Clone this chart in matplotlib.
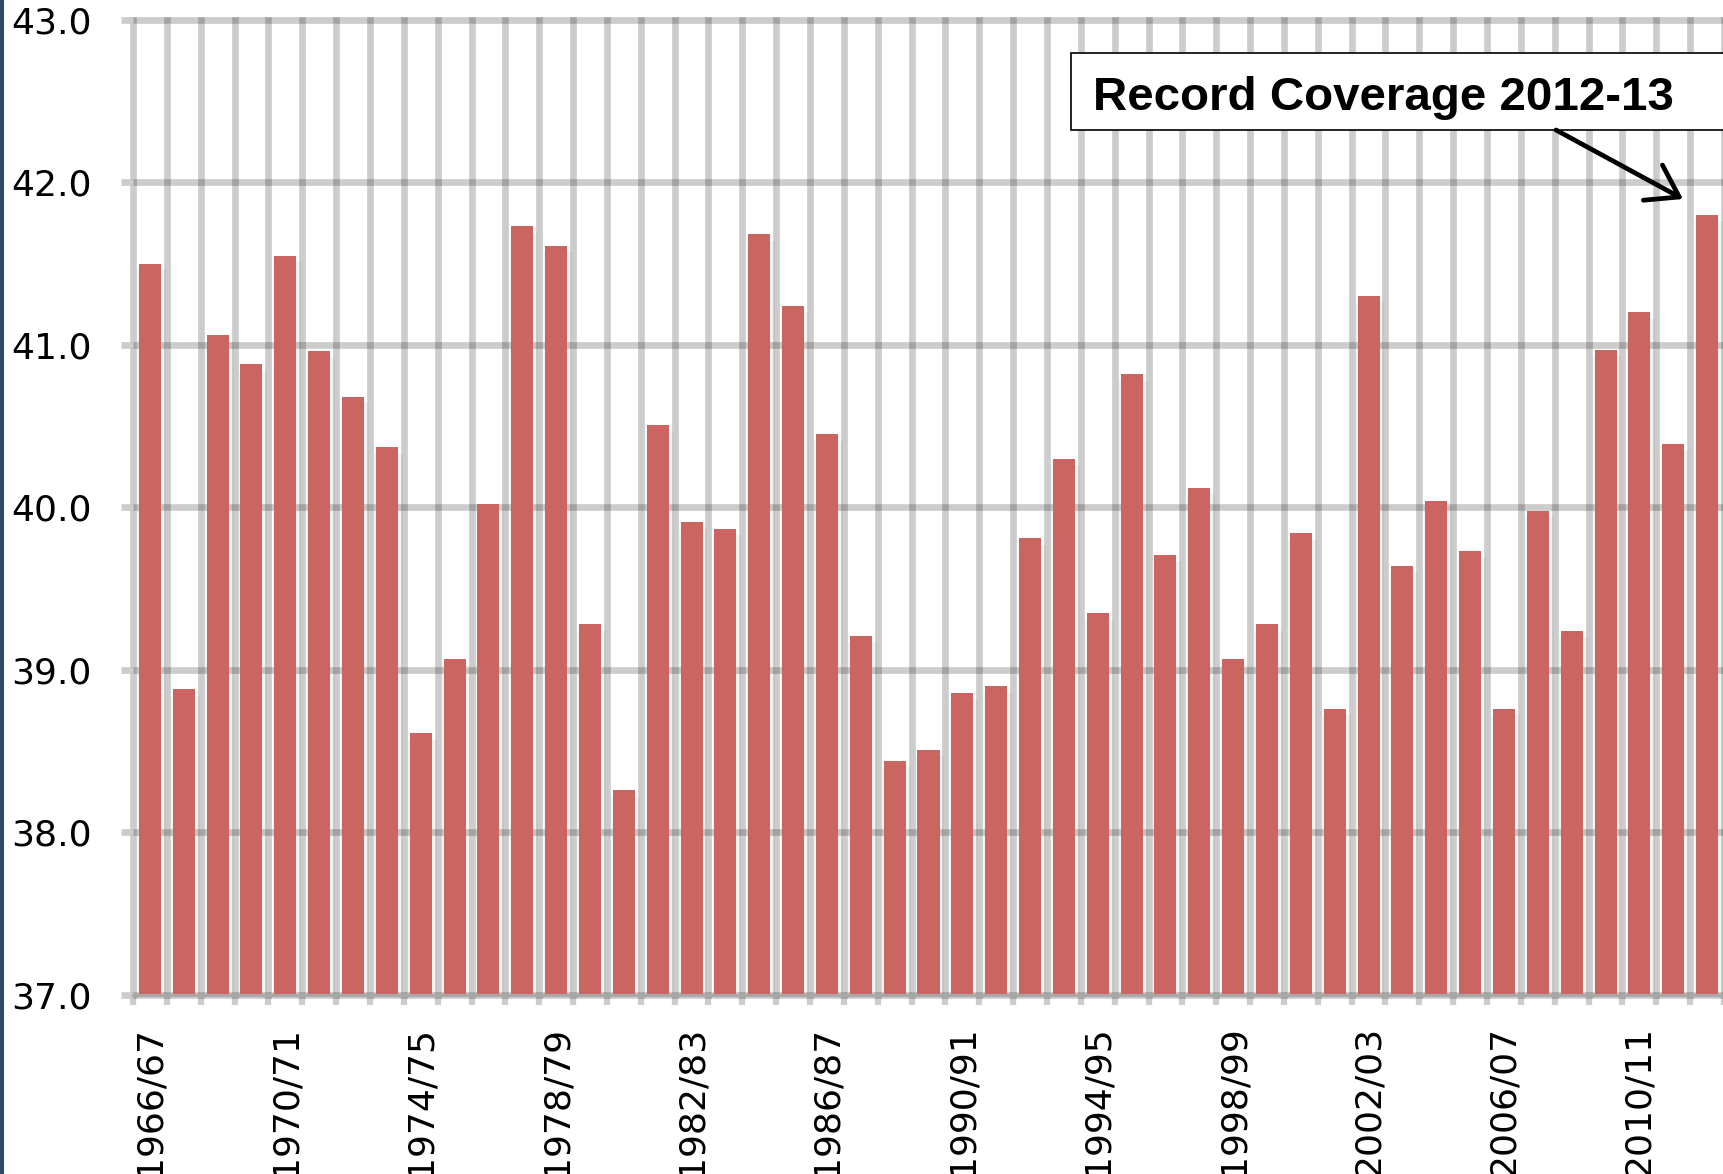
"""Snow coverage by season, 1966/67 - 2012/13, with the 2012-13 record flagged."""

import numpy as np
import matplotlib.pyplot as plt
from matplotlib.patches import Rectangle

seasons = [f"{y}/{str(y + 1)[-2:]}" for y in range(1966, 2013)]

coverage = [
    41.50, 38.88, 41.06, 40.88, 41.55, 40.96, 40.68, 40.37, 38.61, 39.07,
    40.02, 41.73, 41.61, 39.28, 38.26, 40.51, 39.91, 39.87, 41.68, 41.24,
    40.45, 39.21, 38.44, 38.51, 38.86, 38.90, 39.81, 40.30, 39.35, 40.82,
    39.71, 40.12, 39.07, 39.28, 39.84, 38.76, 41.30, 39.64, 40.04, 39.73,
    38.76, 39.98, 39.24, 40.97, 41.20, 40.39, 41.80,
]

y_ticks = [37.0, 38.0, 39.0, 40.0, 41.0, 42.0, 43.0]
label_every = 4
note_text = "Record Coverage 2012-13"

BAR_COLOR = '#cb6562'
GRID_COLOR = '#cccccc'

W, H = 1723, 1174


def main():
    fig = plt.figure(figsize=(W / 100, H / 100), dpi=100)
    fig.patch.set_facecolor('white')

    # plot area: left edge at first category boundary, right edge runs off the image
    ax = fig.add_axes([133 / W, 1 - 995 / H, (1724 - 133) / W, 975 / H])

    x = np.arange(len(coverage))
    vals = np.array(coverage)

    # soft shadow behind bars, then the bars
    ax.bar(x + 0.05, vals - 0.04, width=0.84, color='black', alpha=0.045,
           zorder=0.3, linewidth=0)
    ax.bar(x, vals, width=0.65, color=BAR_COLOR, zorder=2, linewidth=0)

    ax.set_xlim(-0.5, len(coverage) - 0.5)
    ax.set_ylim(y_ticks[0], y_ticks[-1])

    ax.set_yticks(y_ticks)
    ax.set_yticklabels([f"{v:.1f}" for v in y_ticks])

    ax.set_xticks(x[::label_every])
    ax.set_xticklabels(seasons[::label_every], rotation=90)
    ax.set_xticks(np.arange(len(coverage) + 1) - 0.5, minor=True)

    ax.set_axisbelow(True)
    ax.grid(True, axis='y', which='major', color='black', alpha=0.2,
            linewidth=4.8)
    ax.grid(True, axis='x', which='minor', color='black', alpha=0.2,
            linewidth=4.8)
    ax.grid(False, axis='x', which='major')

    ax.tick_params(axis='y', which='major', direction='out', length=8.6,
                   width=4.8, color=GRID_COLOR, pad=21, labelsize=26,
                   labelcolor='black')
    ax.tick_params(axis='x', which='major', length=0, pad=22, labelsize=26,
                   labelcolor='black')
    ax.tick_params(axis='x', which='minor', direction='out', length=7,
                   width=4.5, color=GRID_COLOR)

    # keep the edge gridlines whole instead of clipped at the axes border
    edge_lines = [t.gridline for t in ax.yaxis.get_major_ticks()]
    edge_lines += [t.gridline for t in ax.xaxis.get_minor_ticks()]
    for line in edge_lines:
        line.set_clip_on(False)

    for side in ('top', 'right', 'left'):
        ax.spines[side].set_visible(False)
    ax.spines['bottom'].set_color('#a8a8a8')
    ax.spines['bottom'].set_linewidth(2.2)
    ax.spines['bottom'].set_zorder(2.5)

    # callout box with arrow to the last bar
    ax.add_patch(Rectangle((1071 / W, 1 - 130 / H), 0.4, 77 / H,
                           transform=fig.transFigure, facecolor='white',
                           edgecolor='black', linewidth=1.2, clip_on=False,
                           zorder=5))
    ax.text(1093 / W, 1 - 110 / H, note_text, transform=fig.transFigure,
            fontsize=34.2, fontweight='bold', family='Liberation Sans',
            ha='left', va='baseline', zorder=6)
    ax.annotate('', xy=(1683 / W, 1 - 199 / H), xycoords='figure fraction',
                xytext=(1556 / W, 1 - 130 / H), textcoords='figure fraction',
                arrowprops=dict(arrowstyle='->,head_length=0.45,head_width=0.3',
                                lw=3.4, color='black', mutation_scale=48,
                                shrinkA=0, shrinkB=0),
                annotation_clip=False, zorder=6)

    # slide frame strip on the left edge
    fig.add_artist(Rectangle((0, 0), 4 / W, 1, transform=fig.transFigure,
                             facecolor='#2e4a6a', edgecolor='none'))

    fig.savefig('out.png', dpi=100)
    plt.close(fig)


if __name__ == "__main__":
    main()
